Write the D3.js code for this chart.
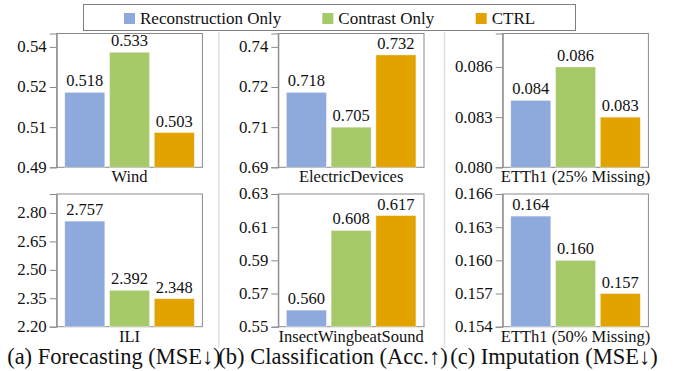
<!DOCTYPE html>
<html><head><meta charset="utf-8">
<script src="https://cdn.jsdelivr.net/npm/d3@7"></script>
</head>
<body style="margin:0"><svg id="chart" width="677" height="371"></svg>
<script>
// ---- data ----
const seriesNames = ["Reconstruction Only", "Contrast Only", "CTRL"];
const seriesColors = ["#8EA9DB", "#A6C96A", "#E2A200"];

const panelDatasets = ["Wind", "ElectricDevices", "ETTh1 (25% Missing)", "ILI", "InsectWingbeatSound", "ETTh1 (50% Missing)"];
const windValues = [0.518, 0.533, 0.503];
const electricValues = [0.718, 0.705, 0.732];
const etth25Values = [0.084, 0.086, 0.083];
const iliValues = [2.757, 2.392, 2.348];
const insectValues = [0.560, 0.608, 0.617];
const etth50Values = [0.164, 0.160, 0.157];

const windDomain = [0.49, 0.54];
const electricDomain = [0.69, 0.74];
const etth25Domain = [0.080, 0.088];
const iliDomain = [2.20, 2.90];
const insectDomain = [0.55, 0.63];
const etth50Domain = [0.154, 0.166];

const windTicks = [0.49, 0.505, 0.52, 0.535];
const windTickLabels = ["0.49", "0.51", "0.52", "0.54"];
const electricTicks = [0.69, 0.705, 0.72, 0.735];
const electricTickLabels = ["0.69", "0.71", "0.72", "0.74"];
const etth25Ticks = [0.080, 0.083, 0.086];
const etth25TickLabels = ["0.080", "0.083", "0.086"];
const iliTicks = [2.20, 2.35, 2.50, 2.65, 2.80];
const iliTickLabels = ["2.20", "2.35", "2.50", "2.65", "2.80"];
const insectTicks = [0.55, 0.57, 0.59, 0.61, 0.63];
const insectTickLabels = ["0.55", "0.57", "0.59", "0.61", "0.63"];
const etth50Ticks = [0.154, 0.157, 0.160, 0.163, 0.166];
const etth50TickLabels = ["0.154", "0.157", "0.160", "0.163", "0.166"];

const captions = ["(a) Forecasting (MSE\u2193)", "(b) Classification (Acc.\u2191)", "(c) Imputation (MSE\u2193)"];

// ---- layout ----
const FONT = "Liberation Serif";
function serif(sel, size) {
  return sel.style("font-family", FONT).style("font-size", size + "px").attr("fill", "#111");
}
const panels = [
  {name: panelDatasets[0], values: windValues, domain: windDomain, ticks: windTicks, labels: windTickLabels, col: 0, row: 0},
  {name: panelDatasets[1], values: electricValues, domain: electricDomain, ticks: electricTicks, labels: electricTickLabels, col: 1, row: 0},
  {name: panelDatasets[2], values: etth25Values, domain: etth25Domain, ticks: etth25Ticks, labels: etth25TickLabels, col: 2, row: 0},
  {name: panelDatasets[3], values: iliValues, domain: iliDomain, ticks: iliTicks, labels: iliTickLabels, col: 0, row: 1},
  {name: panelDatasets[4], values: insectValues, domain: insectDomain, ticks: insectTicks, labels: insectTickLabels, col: 1, row: 1},
  {name: panelDatasets[5], values: etth50Values, domain: etth50Domain, ticks: etth50Ticks, labels: etth50TickLabels, col: 2, row: 1}
];
const colLeft = [56.7, 278.3, 502.7];
const plotW = 145.7;
const rowTop = [33.5, 194];
const rowBottom = [167.3, 326.7];
const frameColor = "#8a8a8a";

const svg = d3.select("#chart");

// separators
[219, 444.5].forEach(x => {
  svg.append("line").attr("x1", x).attr("x2", x).attr("y1", 32).attr("y2", 348)
    .attr("stroke", "#dcdcdc").attr("stroke-width", 1.3);
});

panels.forEach(p => {
  const x0 = colLeft[p.col], x1 = x0 + plotW;
  const yTop = rowTop[p.row], yBot = rowBottom[p.row];
  const y = d3.scaleLinear().domain(p.domain).range([yBot, yTop]);
  const x = d3.scaleBand().domain(seriesNames).range([x0, x1]).paddingInner(0.105).paddingOuter(0.18);

  svg.append("rect").attr("x", x0).attr("y", yTop).attr("width", plotW).attr("height", yBot - yTop)
    .attr("fill", "none").attr("stroke", frameColor).attr("stroke-width", 1);

  p.values.forEach((v, i) => {
    svg.append("rect")
      .attr("x", x(seriesNames[i]))
      .attr("width", x.bandwidth())
      .attr("y", y(v))
      .attr("height", yBot - y(v))
      .attr("fill", seriesColors[i])
      .attr("stroke", "#ffffff").attr("stroke-opacity", 0.5).attr("stroke-width", 0.8);
    serif(svg.append("text"), 16.5)
      .attr("x", x(seriesNames[i]) + x.bandwidth() / 2)
      .attr("y", y(v) - 6)
      .attr("text-anchor", "middle")
      .text(d3.format(".3f")(v));
  });

  const axis = d3.axisLeft(y).tickValues(p.ticks).tickFormat((d, i) => p.labels[i]).tickSize(7).tickPadding(3);
  const ag = svg.append("g").attr("transform", `translate(${x0},0)`).call(axis);
  ag.attr("font-family", null).attr("font-size", null);
  ag.select(".domain").attr("stroke", frameColor);
  ag.selectAll(".tick line").attr("stroke", frameColor);
  ag.selectAll(".tick text").remove();
  p.ticks.forEach((t, i) => {
    serif(svg.append("text"), 16.8)
      .attr("x", x0 - 10).attr("y", y(t)).attr("dy", "0.32em")
      .attr("text-anchor", "end").text(p.labels[i]);
  });

  serif(svg.append("text"), 16.5).attr("x", (x0 + x1) / 2).attr("y", yBot + 15)
    .attr("text-anchor", "middle").text(p.name);
});

// captions
const captionX = [114, 333, 554];
captions.forEach((c, i) => {
  serif(svg.append("text"), 22.5).attr("x", captionX[i]).attr("y", 363.5)
    .attr("text-anchor", "middle").text(c);
});

// legend
svg.append("rect").attr("x", 83.5).attr("y", 4.5).attr("width", 492).attr("height", 26)
  .attr("fill", "#fff").attr("stroke", "#7f7f7f").attr("stroke-width", 1);
const legendX = [124, 322.3, 475.7];
seriesNames.forEach((s, i) => {
  svg.append("rect").attr("x", legendX[i]).attr("y", 13).attr("width", 11).attr("height", 11)
    .attr("fill", seriesColors[i]);
  serif(svg.append("text"), 17).attr("x", legendX[i] + 16).attr("y", 24).text(s);
});
</script>
</body></html>
